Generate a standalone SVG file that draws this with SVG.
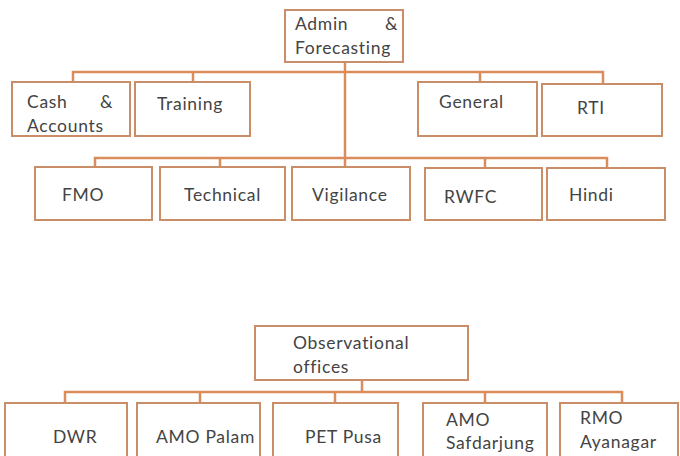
<svg xmlns="http://www.w3.org/2000/svg" width="680" height="456" viewBox="0 0 680 456">
<style>
.box{fill:#fff;stroke:#c98d68;stroke-width:2}
.t{font-family:Lato,"Open Sans",sans-serif;font-size:17.5px;letter-spacing:0.7px;fill:#444}
.c{fill:none;stroke:#d98c5c;stroke-width:2.5}
</style>
<rect width="680" height="456" fill="#fff"/>
<g id="connectors">
<path class="c" d="M345,62 V158"/>
<path class="c" d="M73,82 V72 H603 V84 M193,72 V82 M480,72 V82"/>
<path class="c" d="M95,167 V158 H607 V167 M220,158 V167 M345,158 V167 M485,158 V167"/>
<path class="c" d="M362,380 V392"/>
<path class="c" d="M65,403 V392 H622 V403 M200,392 V403 M335,392 V403 M485,392 V403"/>
</g>
<g id="admin"><rect class="box" x="285" y="10" width="118" height="52"/><text class="t" x="295" y="30">Admin</text><text class="t" x="385" y="30">&amp;</text><text class="t" x="295" y="54">Forecasting</text></g>
<g id="cash"><rect class="box" x="12" y="82" width="118" height="54"/><text class="t" x="27" y="108">Cash</text><text class="t" x="100" y="108">&amp;</text><text class="t" x="27" y="132">Accounts</text></g>
<g id="training"><rect class="box" x="135" y="82" width="115" height="54"/><text class="t" x="157" y="110">Training</text></g>
<g id="general"><rect class="box" x="418" y="82" width="119" height="54"/><text class="t" x="439" y="108">General</text></g>
<g id="rti"><rect class="box" x="542" y="84" width="120" height="52"/><text class="t" x="577" y="114">RTI</text></g>
<g id="fmo"><rect class="box" x="35" y="167" width="117" height="53"/><text class="t" x="62" y="201">FMO</text></g>
<g id="technical"><rect class="box" x="160" y="167" width="125" height="53"/><text class="t" x="184" y="201">Technical</text></g>
<g id="vigilance"><rect class="box" x="292" y="167" width="118" height="53"/><text class="t" x="312" y="201">Vigilance</text></g>
<g id="rwfc"><rect class="box" x="425" y="168" width="117" height="52"/><text class="t" x="444" y="203">RWFC</text></g>
<g id="hindi"><rect class="box" x="547" y="168" width="118" height="52"/><text class="t" x="569" y="201">Hindi</text></g>
<g id="observational"><rect class="box" x="255" y="326" width="213" height="54"/><text class="t" x="293" y="349">Observational</text><text class="t" x="293" y="373">offices</text></g>
<g id="dwr"><rect class="box" x="5" y="403" width="122" height="60"/><text class="t" x="53" y="443">DWR</text></g>
<g id="amopalam"><rect class="box" x="137" y="403" width="123" height="60"/><text class="t" x="156" y="443">AMO Palam</text></g>
<g id="petpusa"><rect class="box" x="273" y="403" width="125" height="60"/><text class="t" x="305" y="443">PET Pusa</text></g>
<g id="amosafdarjung"><rect class="box" x="423" y="403" width="124" height="60"/><text class="t" x="446" y="426">AMO</text><text class="t" x="446" y="449">Safdarjung</text></g>
<g id="rmoayanagar"><rect class="box" x="560" y="403" width="118" height="60"/><text class="t" x="580" y="424">RMO</text><text class="t" x="580" y="448">Ayanagar</text></g>
</svg>
